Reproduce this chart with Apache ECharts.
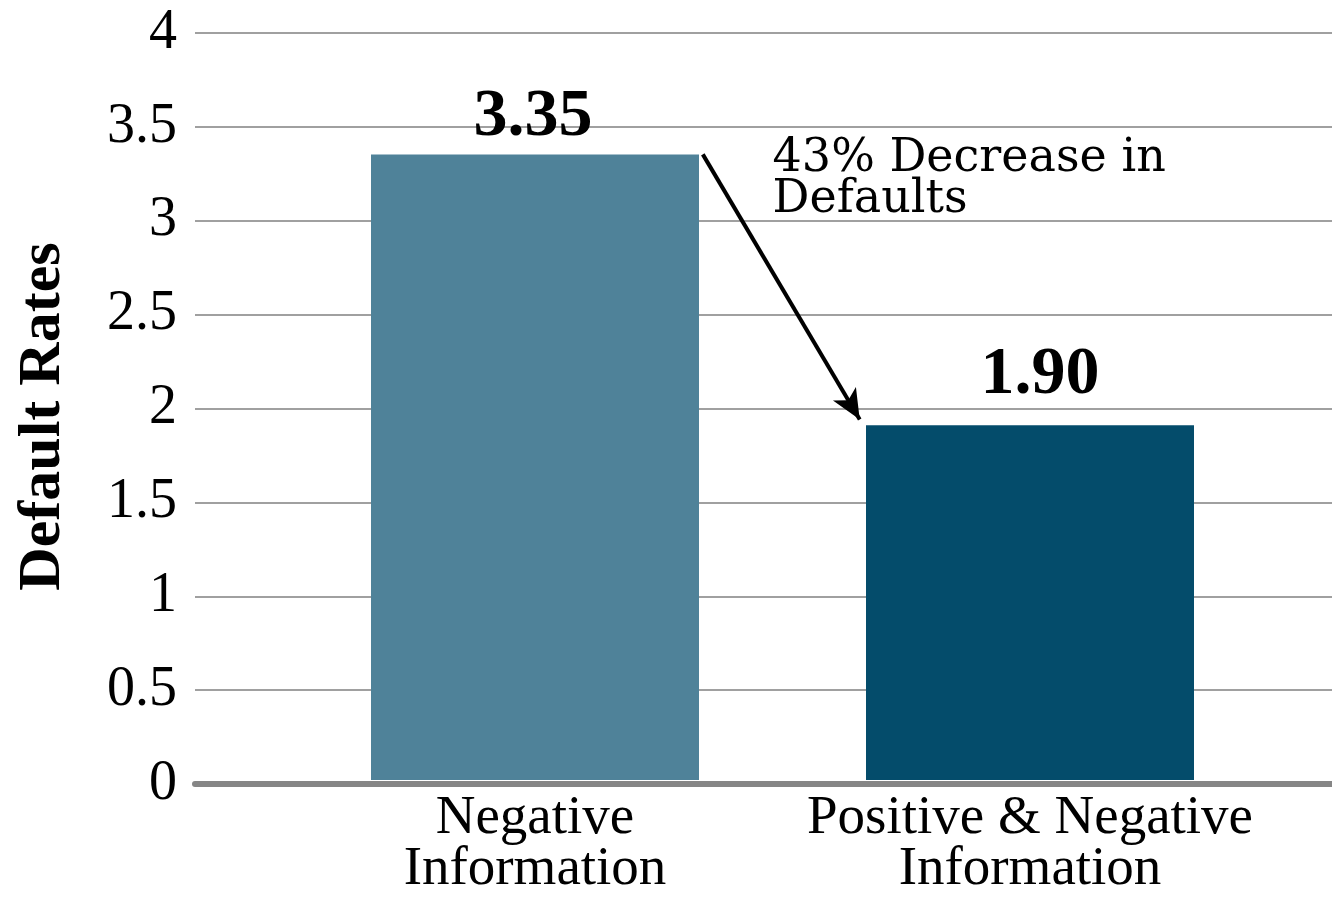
<!DOCTYPE html>
<html>
<head>
<meta charset="utf-8">
<script src="https://cdn.jsdelivr.net/npm/echarts@6/dist/echarts.min.js"></script>
<style>
  html, body { margin: 0; padding: 0; background: #fff; }
  #chart { width: 1332px; height: 897px; }
</style>
</head>
<body>
<div id="chart"></div>
<script>
// ---- data ----
const categories = ['Negative\nInformation', 'Positive & Negative\nInformation'];
const defaultRates = [3.35, 1.90];
const barColors = ['#4f8299', '#044c6b'];
const yAxisName = 'Default Rates';
const yMin = 0, yMax = 4, yStep = 0.5;
const annotationText = '43% Decrease in\nDefaults';
// arrow start / end in (category-index, value) space
const arrowStart = [0.339, 3.35];
const arrowEnd = [0.656, 1.93];
const annotationAt = [0.481, 3.43];
const labelOffsets = [[-2, 0], [10, -13]];

const serif = "'Liberation Serif', 'Times New Roman', serif";
const chart = echarts.init(document.getElementById('chart'), null, { renderer: 'canvas' });

const option = {
  backgroundColor: '#ffffff',
  animation: false,
  grid: [
    { left: 195, right: 0, top: 33, bottom: 113 },
    { left: 287.5, right: 54.5, top: 33, bottom: 113 }
  ],
  xAxis: [
    {
      gridIndex: 0, type: 'value', min: 0, max: 1, z: 5,
      axisLine: { show: true, lineStyle: { color: '#868686', width: 6 } },
      axisTick: { show: false }, axisLabel: { show: false }, splitLine: { show: false }
    },
    {
      gridIndex: 1, type: 'category', data: categories,
      axisLine: { show: false }, axisTick: { show: false },
      axisLabel: {
        margin: 13, color: '#000', fontFamily: serif, fontSize: 55, lineHeight: 51,
        interval: 0
      }
    },
    {
      gridIndex: 1, type: 'value', min: -0.5, max: 1.5, show: false
    }
  ],
  yAxis: [
    {
      gridIndex: 0, type: 'value', min: yMin, max: yMax, interval: yStep,
      name: yAxisName, nameLocation: 'middle', nameRotate: 90, nameGap: 122,
      nameTextStyle: { fontFamily: serif, fontWeight: 'bold', fontSize: 60, color: '#000', padding: [0, 16, 0, 0] },
      axisLine: { show: false }, axisTick: { show: false },
      axisLabel: { margin: 18, color: '#000', fontFamily: serif, fontSize: 56 },
      splitLine: { show: true, lineStyle: { color: '#a0a0a0', width: 2 } }
    },
    {
      gridIndex: 1, type: 'value', min: yMin, max: yMax, interval: yStep, show: false,
      splitLine: { show: false }
    }
  ],
  series: [
    {
      type: 'bar', xAxisIndex: 1, yAxisIndex: 1, barWidth: 328,
      data: defaultRates.map((v, i) => ({
        value: v,
        itemStyle: { color: barColors[i] },
        label: { offset: labelOffsets[i] }
      })),
      label: {
        show: true, position: 'top', distance: 3,
        formatter: p => p.value.toFixed(2),
        fontFamily: serif, fontWeight: 'bold', fontSize: 68, color: '#000'
      },
      emphasis: { disabled: true },
      silent: true
    },
    {
      type: 'scatter', xAxisIndex: 2, yAxisIndex: 1, data: [], silent: true,
      markLine: {
        silent: true, animation: false,
        symbol: ['none', 'arrow'], symbolSize: [20, 30],
        lineStyle: { color: '#000', width: 4, type: 'solid' },
        label: { show: false },
        emphasis: { disabled: true },
        data: [[{ coord: arrowStart }, { coord: arrowEnd }]]
      },
      markPoint: {
        silent: true, animation: false,
        symbol: 'rect', symbolSize: 1,
        itemStyle: { color: 'rgba(0,0,0,0)' },
        label: {
          show: true, position: [0, 0], align: 'left', verticalAlign: 'top',
          formatter: annotationText,
          fontFamily: "'DejaVu Serif', serif", fontSize: 46, lineHeight: 41, color: '#000'
        },
        data: [{ coord: annotationAt }]
      }
    }
  ]
};
chart.setOption(option);
</script>
</body>
</html>
